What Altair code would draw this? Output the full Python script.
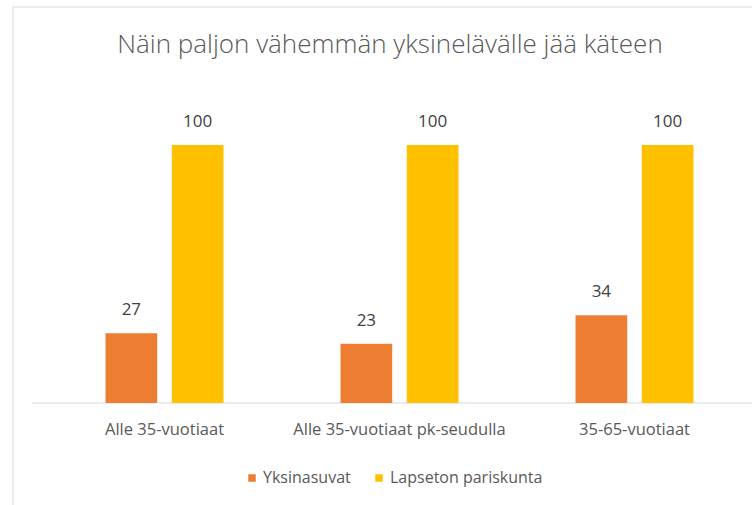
import altair as alt
import pandas as pd

categories = ["Alle 35-vuotiaat", "Alle 35-vuotiaat pk-seudulla", "35-65-vuotiaat"]
series = ["Yksinasuvat", "Lapseton pariskunta"]
yksinasuvat = [27, 23, 34]
lapseton = [100, 100, 100]
colors = ["#ED7D31", "#FFC000"]
title_text = "Näin paljon vähemmän yksinelävälle jää käteen"

rows = []
for c, a, b in zip(categories, yksinasuvat, lapseton):
    rows.append({"cat": c, "series": series[0], "value": a})
    rows.append({"cat": c, "series": series[1], "value": b})
df = pd.DataFrame(rows)

FONT = "Open Sans"
W, H = 705, 258
one = pd.DataFrame({"v": [0]})

x = alt.X("cat:N", sort=categories, title=None,
          scale=alt.Scale(paddingInner=0.498, paddingOuter=0.249),
          axis=alt.Axis(labelAngle=0, domain=False, ticks=False, labelPadding=18,
                        labelLimit=0, labelFont=FONT, labelFontSize=16.5,
                        labelColor="#595959"))
xo = alt.XOffset("series:N", sort=series, scale=alt.Scale(paddingInner=0.22, paddingOuter=0))
y = alt.Y("value:Q", scale=alt.Scale(domain=[0, 100], nice=False, zero=True), axis=None)

base = alt.Chart(df).encode(x=x, xOffset=xo, y=y)

bars = base.mark_bar().encode(
    color=alt.Color("series:N", sort=series,
                    scale=alt.Scale(domain=series, range=colors),
                    legend=alt.Legend(title=None, orient="none", direction="horizontal",
                                      legendX=197, legendY=325, symbolType="square",
                                      symbolSize=56, symbolStrokeWidth=0,
                                      labelFont=FONT, labelFontSize=16,
                                      labelColor="#595959", columnPadding=20,
                                      labelOffset=3))
)

labels = base.mark_text(baseline="middle", dy=-23, font=FONT, fontSize=17,
                        color="#404040").encode(text="value:Q")

baseline = alt.Chart(one).mark_rule(color="#D9D9D9", strokeWidth=1).encode(
    x=alt.value(-15), x2=alt.value(W), y=alt.value(H))

border_left = alt.Chart(one).mark_rule(color="#D9D9D9", strokeWidth=1).encode(
    x=alt.value(-34), y=alt.value(-138), y2=alt.value(H + 110))
border_top = alt.Chart(one).mark_rule(color="#D9D9D9", strokeWidth=1).encode(
    x=alt.value(-34), x2=alt.value(W + 10), y=alt.value(-138))

title = alt.Chart(one).mark_text(font=FONT, fontSize=26, fontWeight=300, color="#595959",
                                 align="center", baseline="alphabetic").encode(
    x=alt.value(343), y=alt.value(-92), text=alt.value(title_text))

chart = alt.layer(border_left, border_top, baseline, bars, labels, title).properties(
    width=W, height=H,
    autosize=alt.AutoSizeParams(type="none"),
    padding={"left": 47, "top": 145, "right": 0, "bottom": 102},
).configure(background="white").configure_view(stroke=None)

chart.save("out.html", embed_options={"renderer": "svg", "actions": False})
